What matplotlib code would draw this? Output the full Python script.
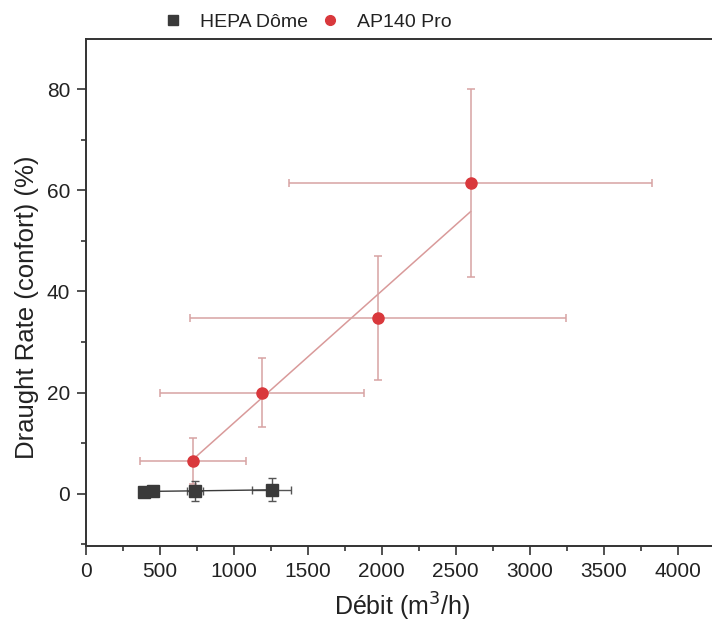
import numpy as np
import matplotlib.pyplot as plt
from matplotlib.lines import Line2D

plt.rcParams['font.family'] = ['Liberation Sans', 'DejaVu Sans']

# HEPA Dôme
hepa_x = [390, 450, 735, 1255]
hepa_y = [0.3, 0.5, 0.6, 0.8]
hepa_xerr = [30, 30, 55, 130]
hepa_yerr = [0.8, 0.8, 2.0, 2.3]

# AP140 Pro
ap_x = [723, 1191, 1975, 2601]
ap_y = [6.5, 20.0, 34.8, 61.4]
ap_xerr = [360, 690, 1270, 1225]
ap_yerr = [4.5, 6.8, 12.3, 18.6]

# linear fit shown on the chart (end points)
fit_x = [723, 2601]
fit_y = [6.8, 55.8]

red = '#d9383c'
err_red = '#d7a3a3'
dark = '#3a3a3a'
txt = '#222222'

fig = plt.figure(figsize=(7.12, 6.31), dpi=100)
ax = fig.add_axes([86/712, 85/631, 665.5/712, 507/631])

ax.plot(fit_x, fit_y, color='#d99a9a', lw=1.1, zorder=2)
ax.errorbar(ap_x, ap_y, xerr=ap_xerr, yerr=ap_yerr, fmt='o', color=red,
            ms=8, ecolor=err_red, elinewidth=1.1, capsize=3, capthick=1.1,
            zorder=3)
ax.errorbar(hepa_x, hepa_y, xerr=hepa_xerr, yerr=hepa_yerr, fmt='s-', color=dark,
            ms=8, ecolor='#555555', elinewidth=1, capsize=3, lw=1,
            zorder=4)

ax.set_xlim(0, 4500)
ax.set_ylim(-10.3, 89.9)
ax.set_xticks(np.arange(0, 4001, 500))
ax.set_xticks(np.arange(250, 4500, 500), minor=True)
ax.set_yticks([0, 20, 40, 60, 80])
ax.set_yticks([-10, 10, 30, 50, 70], minor=True)
ax.tick_params(axis='both', which='major', direction='out', length=6.5, width=1.2,
               labelsize=15, color='#333333', labelcolor=txt, pad=5)
ax.tick_params(axis='both', which='minor', direction='out', length=3.5, width=1.2,
               color='#333333')
for s in ax.spines.values():
    s.set_linewidth(1.4)
    s.set_color('#333333')

ax.set_xlabel('Débit (m$^3$/h)', fontsize=18, color=txt, va='center')
ax.xaxis.set_label_coords(0.475, -0.12)
ax.set_ylabel('Draught Rate (confort) (%)', fontsize=18.5, color=txt, va='center')
ax.yaxis.set_label_coords(-0.088, 0.47)

handles = [
    Line2D([], [], ls='none', marker='s', ms=7, color=dark),
    Line2D([], [], ls='none', marker='o', ms=7, color=red),
]
fig.legend(handles, ['HEPA Dôme', 'AP140 Pro'], loc='center',
           bbox_to_anchor=(0.432, 0.965), ncol=2, frameon=False, fontsize=14,
           handletextpad=0.9, columnspacing=0.6, handlelength=1.0,
           labelcolor=txt)

fig.savefig('out.png', dpi=100)
